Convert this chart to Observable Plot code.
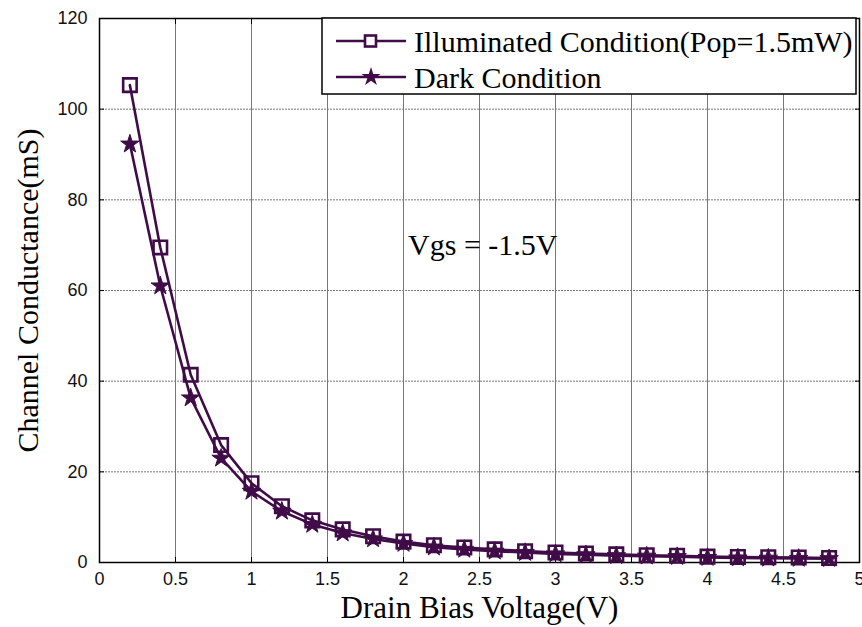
<!DOCTYPE html>
<html><head><meta charset="utf-8">
<script src="https://cdn.jsdelivr.net/npm/d3@7"></script>
<script src="https://cdn.jsdelivr.net/npm/@observablehq/plot@0.6"></script>
<style>body{margin:0;background:#fff}</style>
</head><body><div id="chart"></div>
<script>
const voltage = [0.2,0.4,0.6,0.8,1.0,1.2,1.4,1.6,1.8,2.0,2.2,2.4,2.6,2.8,3.0,3.2,3.4,3.6,3.8,4.0,4.2,4.4,4.6,4.8];
const illuminated = [105.3,69.5,41.4,25.9,17.5,12.4,9.3,7.3,5.8,4.6,3.8,3.3,2.9,2.5,2.2,2.0,1.8,1.6,1.5,1.3,1.2,1.15,1.1,1.0];
const dark = [92.3,61.0,36.3,23.0,15.7,11.3,8.4,6.5,5.2,4.2,3.4,2.9,2.5,2.2,1.9,1.7,1.5,1.4,1.3,1.1,1.0,0.95,0.9,0.85];
const xTicks = [0,0.5,1,1.5,2,2.5,3,3.5,4,4.5,5];
const yTicks = [0,20,40,60,80,100,120];
const seriesNames = ["Illuminated Condition(Pop=1.5mW)", "Dark Condition"];
const annotation = [{x: 2.03, y: 70, text: "Vgs = -1.5V"}];
const xTitle = "Drain Bias Voltage(V)";
const yTitle = "Channel Conductance(mS)";

const color = "#400c48";
const illData = voltage.map((v,i)=>({x:v,y:illuminated[i]}));
const darkData = voltage.map((v,i)=>({x:v,y:dark[i]}));
const tickFont = "Liberation Sans, Arial, sans-serif";
const serif = "Liberation Serif, Times New Roman, serif";

const chart = Plot.plot({
  width: 862, height: 627,
  marginLeft: 99, marginRight: 3, marginTop: 18, marginBottom: 65,
  style: {background: "#fff", overflow: "visible"},
  x: {domain: [0,5], ticks: xTicks},
  y: {domain: [0,120], ticks: yTicks},
  marks: [
    Plot.gridX(xTicks, {stroke: "#777", strokeOpacity: 1, strokeWidth: 1}),
    Plot.gridY(yTicks, {stroke: "#777", strokeOpacity: 1, strokeWidth: 1, strokeDasharray: "2,1"}),
    Plot.axisX(xTicks, {tickSize: -5, tickFormat: d => String(d), tickPadding: 15, fontSize: 18, fontFamily: tickFont, fill: "#111", letterSpacing: "1px", label: null}),
    Plot.axisX(xTicks, {anchor: "top", tickSize: -5, tickFormat: () => "", label: null}),
    Plot.axisY(yTicks, {tickSize: -5, tickFormat: d => String(d), tickPadding: 17, fontSize: 18, fontFamily: tickFont, fill: "#111", letterSpacing: "1px", label: null}),
    Plot.axisY(yTicks, {anchor: "right", tickSize: -5, tickFormat: () => "", label: null}),
    Plot.frame({stroke: "#000", strokeWidth: 1.5}),
    Plot.line(illData, {x: "x", y: "y", stroke: color, strokeWidth: 2.6}),
    Plot.line(darkData, {x: "x", y: "y", stroke: color, strokeWidth: 2.6}),
    Plot.dot(darkData, {x: "x", y: "y", symbol: "star", r: 5.8, fill: color, stroke: color, strokeWidth: 1}),
    Plot.dot(illData, {x: "x", y: "y", symbol: "square", r: 7.6, fill: "none", stroke: color, strokeWidth: 2.6}),
    Plot.text(annotation, {x: "x", y: "y", text: "text", textAnchor: "start", fontSize: 30, fontFamily: serif, fill: "#000"}),
    Plot.text([xTitle], {frameAnchor: "bottom", text: d => d, lineAnchor: "middle", dy: 46, fontSize: 31, fontFamily: serif, fill: "#000"}),
    Plot.text([yTitle], {frameAnchor: "left", text: d => d, rotate: -90, textAnchor: "middle", lineAnchor: "middle", dx: -71, fontSize: 30, fontFamily: serif, fill: "#000"})
  ]
});
document.getElementById("chart").appendChild(chart);

// Legend
const svg = d3.select(chart);
const lg = svg.append("g");
lg.append("rect").attr("x", 322).attr("y", 18).attr("width", 534).attr("height", 76)
  .attr("fill", "#fff").attr("stroke", "#000").attr("stroke-width", 1.5);
const rows = [41, 77];
seriesNames.forEach((name, i) => {
  const y = rows[i];
  lg.append("line").attr("x1", 336).attr("x2", 406).attr("y1", y).attr("y2", y)
    .attr("stroke", color).attr("stroke-width", 2.6);
  if (i === 0) {
    lg.append("rect").attr("x", 365).attr("y", y - 5.5).attr("width", 11).attr("height", 11)
      .attr("fill", "#fff").attr("stroke", color).attr("stroke-width", 2.6);
  } else {
    lg.append("path").attr("d", d3.symbol(d3.symbolStar, Math.PI * 6 * 6)())
      .attr("transform", `translate(371,${y})`).attr("fill", color);
  }
  lg.append("text").attr("x", 414).attr("y", y).attr("dy", "0.35em")
    .attr("text-anchor", "start")
    .attr("font-family", serif).attr("font-size", 30).attr("fill", "#000").text(name);
});
</script></body></html>
